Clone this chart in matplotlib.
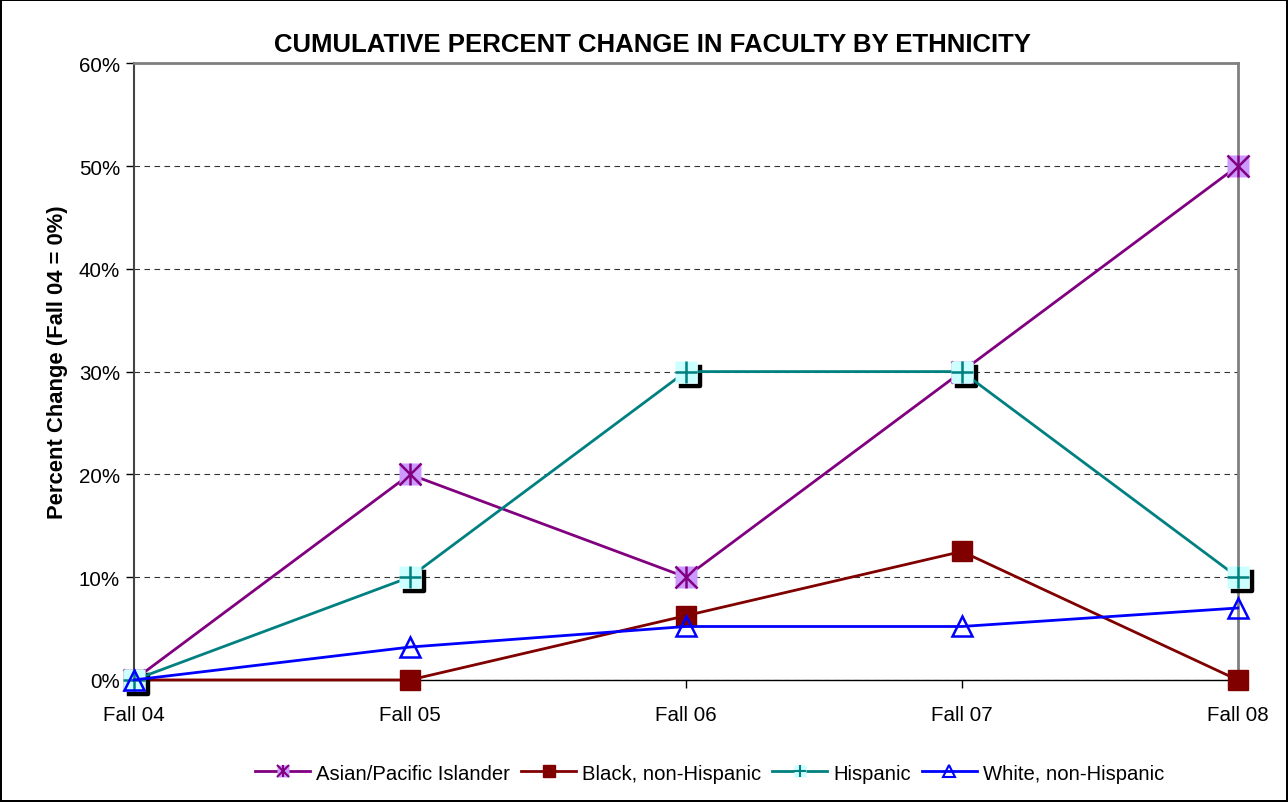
import numpy as np
import matplotlib
matplotlib.use('Agg')
import matplotlib.pyplot as plt
from matplotlib.path import Path
from matplotlib.markers import MarkerStyle
from matplotlib.lines import Line2D
from matplotlib.ticker import PercentFormatter

plt.rcParams['font.family'] = ['Liberation Sans', 'DejaVu Sans']

# data (cumulative % change, Fall 04 = 0)
terms = ['Fall 04', 'Fall 05', 'Fall 06', 'Fall 07', 'Fall 08']
asian = [0, 20, 10, 30, 50]
black = [0, 0, 6.25, 12.5, 0]
hispanic = [0, 10, 30, 30, 10]
white = [0, 3.2, 5.2, 5.2, 7.0]

x = np.arange(len(terms))
LW = 2.0

fig = plt.figure(figsize=(12.88, 8.03), dpi=100)
fig.patch.set_edgecolor('black')
fig.patch.set_linewidth(1.5)
ax = fig.add_axes([0.104, 0.152, 0.857, 0.768])

# Asian/Pacific Islander: light purple square with a purple asterisk
ax.plot(x, asian, color='#800080', lw=LW, marker='s', ms=15.5,
        mfc='#CC99FF', mec='none', clip_on=False, zorder=3)
ax.plot(x, asian, ls='none', marker='x', ms=15.5, mec='#800080', mew=1.8,
        clip_on=False, zorder=3)
ax.plot(x, asian, ls='none', marker='|', ms=15.5, mec='#800080', mew=1.8,
        clip_on=False, zorder=3)

# Black, non-Hispanic
ax.plot(x, black, color='#800000', lw=LW, marker='s', ms=14,
        mfc='#800000', mec='#800000', clip_on=False, zorder=4)

# Hispanic: black L-shaped shadow behind the cyan square
shadow = Path([(14.3, 5), (14.3, -14), (-5, -14)],
              [Path.MOVETO, Path.LINETO, Path.LINETO])
ax.plot(x, hispanic, ls='none',
        marker=MarkerStyle(shadow, joinstyle='miter', capstyle='projecting'),
        ms=20.6, mfc='none', mec='black', mew=3.2, clip_on=False, zorder=4)
ax.plot(x, hispanic, color='#008080', lw=LW, marker='s', ms=15.5,
        mfc='#CCFFFF', mec='none', clip_on=False, zorder=5)
ax.plot(x, hispanic, ls='none', marker='+', ms=15.5, mec='#008080', mew=1.8,
        clip_on=False, zorder=5)

# White, non-Hispanic
ax.plot(x, white, color='#0000FF', lw=LW, marker='^', ms=14, mfc='none',
        mec='#0000FF', mew=1.8, clip_on=False, zorder=6)

ax.set_xlim(0, 4)
ax.set_ylim(0, 60)
ax.set_xticks(x)
ax.set_xticklabels(terms)
ax.set_yticks(np.arange(0, 61, 10))
ax.yaxis.set_major_formatter(PercentFormatter(decimals=0))
ax.tick_params(labelsize=14.8, direction='out', length=6, width=1)
ax.tick_params(axis='x', pad=12)
ax.tick_params(axis='y', pad=4)
ax.grid(axis='y', ls=(0, (5, 4)), color='#333333', lw=0.8)
ax.set_axisbelow(True)

for side in ['top', 'right']:
    ax.spines[side].set_color('#808080')
    ax.spines[side].set_linewidth(2)
ax.spines['left'].set_color('#444444')
ax.spines['left'].set_linewidth(1.5)
ax.spines['bottom'].set_color('black')
ax.spines['bottom'].set_linewidth(1)

ax.set_ylabel('Percent Change (Fall 04 = 0%)', fontsize=15.8, fontweight='bold')
ax.yaxis.set_label_coords(-0.060, 0.517)
ax.set_title('CUMULATIVE PERCENT CHANGE IN FACULTY BY ETHNICITY',
             fontsize=18.5, fontweight='bold', pad=9, x=0.47)

# legend handles
h_asian = (Line2D([], [], color='#800080', lw=LW, marker='s', ms=9,
                  mfc='#CC99FF', mec='none'),
           Line2D([], [], ls='none', marker='x', ms=9, mec='#800080', mew=1.5),
           Line2D([], [], ls='none', marker='|', ms=9, mec='#800080', mew=1.5))
h_black = Line2D([], [], color='#800000', lw=LW, marker='s', ms=9,
                 mfc='#800000', mec='#800000')
h_hisp = (Line2D([], [], color='#008080', lw=LW, marker='s', ms=9,
                 mfc='#CCFFFF', mec='none'),
          Line2D([], [], ls='none', marker='+', ms=9, mec='#008080', mew=1.5))
h_white = Line2D([], [], color='#0000FF', lw=LW, marker='^', ms=9,
                 mfc='none', mec='#0000FF', mew=1.5)

fig.legend([h_asian, h_black, h_hisp, h_white],
           ['Asian/Pacific Islander', 'Black, non-Hispanic', 'Hispanic',
            'White, non-Hispanic'],
           loc='center', bbox_to_anchor=(0.551, 0.036), ncol=4, frameon=False,
           fontsize=14.6, handlelength=2.7, handletextpad=0.3,
           columnspacing=0.55)

fig.savefig('out.png', dpi=100)
